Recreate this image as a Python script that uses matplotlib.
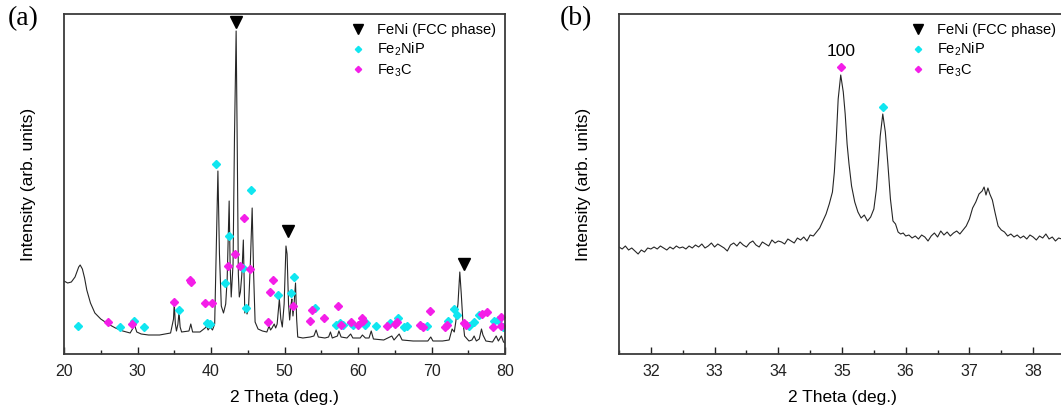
import matplotlib
matplotlib.use("Agg")
import matplotlib.pyplot as plt
from matplotlib.lines import Line2D
from matplotlib.ticker import MultipleLocator

plt.rcParams['font.family'] = ['Liberation Sans', 'DejaVu Sans']
plt.rcParams['mathtext.default'] = 'regular'

# ---- panel (a): wide scan, intensity in arbitrary units (axis spans 0..340)
scan_a_x = [20.0, 20.5, 21.0, 21.5, 22.0, 22.2, 22.5, 22.8, 23.1, 23.6, 24.2, 25.0,
            26.0, 27.0, 28.0, 29.0, 29.4, 29.6, 29.9, 30.5, 31.5, 33.0, 34.5, 34.9,
            35.0, 35.15, 35.3, 35.5, 35.65, 35.8, 36.0, 37.0, 37.25, 37.5, 38.5, 39.2,
            39.4, 39.6, 39.9, 40.2, 40.5, 40.75, 40.94, 41.15, 41.4, 41.7, 42.0, 42.2,
            42.47, 42.6, 42.75, 43.0, 43.2, 43.42, 43.58, 43.72, 43.85, 44.0, 44.2, 44.4,
            44.5, 44.6, 44.75, 44.9, 45.1, 45.35, 45.6, 45.8, 46.0, 46.4, 47.0, 47.6,
            47.9, 48.1, 48.3, 48.6, 48.8, 49.0, 49.3, 49.5, 49.7, 49.95, 50.2, 50.35,
            50.55, 50.7, 50.9, 51.0, 51.15, 51.3, 51.5, 51.65, 51.8, 52.5, 53.5, 54.0,
            54.3, 54.6, 55.5, 56.0, 56.25, 56.5, 57.2, 57.4, 57.7, 58.5, 59.0, 59.3,
            60.3, 60.6, 61.0, 61.5, 61.8, 62.1, 63.5, 64.6, 64.9, 65.6, 66.0, 67.5,
            69.5, 69.9, 70.2, 71.5, 72.4, 72.8, 73.1, 73.3, 73.6, 73.85, 74.05, 74.25,
            74.5, 75.1, 75.5, 75.8, 76.1, 76.5, 76.8, 77.0, 77.4, 78.3, 78.8, 79.1,
            79.5, 79.8, 80.0]
scan_a_y = [73, 71, 72, 77, 87, 89, 85, 76, 64, 51, 41, 35,
            30, 26, 23, 21, 26, 29, 22, 20, 19, 19, 21, 35,
            51, 30, 23, 30, 42, 27, 22, 23, 30, 22, 22, 26,
            28, 24, 27, 24, 30, 120, 183, 100, 48, 41, 50, 75,
            153, 90, 57, 90, 220, 323, 200, 80, 57, 62, 80, 114,
            75, 41, 48, 40, 45, 90, 146, 80, 32, 25, 23, 22,
            28, 24, 26, 30, 26, 30, 55, 35, 27, 50, 108, 100,
            50, 34, 50, 55, 38, 50, 71, 35, 17, 16, 17, 18,
            24, 17, 16, 17, 22, 16, 18, 23, 17, 16, 20, 16,
            16, 19, 16, 16, 23, 15, 14, 18, 14, 20, 14, 13,
            13, 17, 13, 13, 14, 25, 22, 32, 50, 82, 60, 35,
            18, 13, 14, 18, 13, 15, 25, 19, 13, 12, 18, 13,
            18, 12, 11]

feni_a_x = [43.45, 50.5, 74.36]
feni_a_y = [332, 123, 90]

fe2nip_a_x = [21.9, 27.6, 29.5, 30.9, 35.7, 39.4, 39.9, 40.7, 41.84, 42.4, 44.3, 44.75,
              45.5, 49.15, 50.85, 51.3, 54.2, 57.0, 57.5, 58.0, 59.0, 59.35, 60.9, 61.1,
              62.5, 64.4, 65.45, 66.2, 66.6, 69.45, 72.3, 73.0, 73.45, 75.1, 75.8, 76.4,
              78.5, 79.0, 79.7]
fe2nip_a_y = [28, 27, 33, 27, 44, 31, 30, 190, 71, 118, 86, 46,
              164, 59, 61, 77, 46, 29, 31, 29, 31, 29, 29, 31,
              28, 31, 36, 27, 28, 28, 33, 45, 39, 28, 32, 39,
              33, 34, 27]

fe3c_a_x = [26.0, 29.2, 35.0, 37.2, 37.3, 39.2, 40.1, 42.3, 43.2, 44.0, 44.44, 45.3,
            47.75, 48.0, 48.5, 51.2, 53.5, 53.75, 55.35, 57.3, 57.7, 59.0, 60.0, 60.5,
            60.7, 64.0, 65.1, 65.3, 68.5, 68.9, 69.8, 71.8, 72.1, 74.36, 74.7, 76.9,
            77.5, 78.4, 79.4, 79.45]
fe3c_a_y = [32, 30, 52, 74, 72, 51, 51, 88, 100, 88, 136, 85,
            32, 62, 74, 48, 33, 44, 36, 48, 29, 32, 29, 36,
            33, 28, 30, 32, 29, 27, 43, 27, 29, 31, 29, 40,
            42, 27, 28, 37]

# ---- panel (b): narrow scan
scan_b_x = [31.50, 31.55, 31.60, 31.65, 31.70, 31.75, 31.80, 31.85, 31.90, 31.95,
            32.00, 32.05, 32.10, 32.15, 32.20, 32.25, 32.30, 32.35, 32.40, 32.45,
            32.50, 32.55, 32.60, 32.65, 32.70, 32.75, 32.80, 32.85, 32.90, 32.95,
            33.00, 33.05, 33.10, 33.15, 33.20, 33.25, 33.30, 33.35, 33.40, 33.45,
            33.50, 33.55, 33.60, 33.65, 33.70, 33.75, 33.80, 33.85, 33.90, 33.95,
            34.00, 34.05, 34.10, 34.15, 34.20, 34.25, 34.30, 34.35, 34.40, 34.45,
            34.50, 34.55, 34.60, 34.65, 34.70, 34.75, 34.80, 34.85, 34.88, 34.91,
            34.94, 34.98, 35.02, 35.05, 35.08, 35.11, 35.15, 35.20, 35.25, 35.30,
            35.35, 35.40, 35.45, 35.50, 35.54, 35.57, 35.60, 35.64, 35.68, 35.72,
            35.76, 35.80, 35.84, 35.88, 35.92, 35.96, 36.00, 36.05, 36.10, 36.15,
            36.20, 36.25, 36.30, 36.35, 36.40, 36.45, 36.50, 36.55, 36.60, 36.65,
            36.70, 36.75, 36.80, 36.85, 36.90, 36.95, 37.00, 37.05, 37.10, 37.15,
            37.20, 37.23, 37.26, 37.29, 37.32, 37.36, 37.40, 37.45, 37.50, 37.55,
            37.60, 37.65, 37.70, 37.75, 37.80, 37.85, 37.90, 37.95, 38.00, 38.05,
            38.10, 38.15, 38.20, 38.25, 38.30, 38.35, 38.40, 38.45, 38.50]
scan_b_y = [107, 105, 108, 104, 106, 103, 100, 104, 102, 106,
            105, 107, 105, 108, 106, 104, 107, 105, 108, 106,
            107, 105, 108, 106, 109, 107, 110, 106, 108, 111,
            107, 110, 108, 106, 103, 109, 111, 108, 112, 109,
            107, 111, 113, 109, 107, 112, 110, 108, 114, 111,
            113, 112, 110, 115, 113, 111, 116, 114, 117, 113,
            119, 118, 122, 126, 133, 140, 150, 162, 182, 215,
            255, 279, 262, 240, 210, 190, 168, 152, 142, 136,
            139, 133, 137, 145, 165, 190, 218, 240, 222, 190,
            155, 133, 130, 122, 120, 121, 118, 119, 116, 118,
            115, 119, 117, 113, 118, 121, 117, 123, 119, 122,
            118, 121, 123, 120, 124, 128, 135, 146, 152, 160,
            163, 167, 159, 166, 160, 154, 142, 128, 124, 122,
            118, 120, 117, 119, 116, 118, 115, 119, 117, 114,
            118, 116, 120, 115, 117, 113, 116, 115, 114]

fe3c_b_x = [34.98]
fe3c_b_y = [287]
fe2nip_b_x = [35.64]
fe2nip_b_y = [247]
peak_label = "100"

legend_labels = ["FeNi (FCC phase)", "Fe$_2$NiP", "Fe$_3$C"]
line_col = "#262626"
cyan = "#10e6f0"
magenta = "#f41ee8"

fig = plt.figure(figsize=(10.61, 4.05), dpi=100)
ax_a = fig.add_axes([64 / 1061, 1 - 354 / 405, (505 - 64) / 1061, 340 / 405])
ax_b = fig.add_axes([619 / 1061, 1 - 354 / 405, (1065 - 619) / 1061, 340 / 405])


def style_axes(ax, xlim, major, minor):
    ax.set_xlim(*xlim)
    ax.set_ylim(0, 340)
    ax.set_yticks([])
    ax.xaxis.set_major_locator(MultipleLocator(major))
    ax.xaxis.set_minor_locator(MultipleLocator(minor))
    ax.tick_params(axis='x', which='both', direction='in', labelsize=11.5,
                   colors='#222222', pad=7, width=1.0)
    ax.tick_params(axis='x', which='major', length=5)
    ax.tick_params(axis='x', which='minor', length=3)
    for sp in ax.spines.values():
        sp.set_linewidth(1.3)
        sp.set_color('#3a3a3a')
    ax.set_xlabel("2 Theta (deg.)", fontsize=12.5, labelpad=8)
    ax.set_ylabel("Intensity (arb. units)", fontsize=12.5, labelpad=20)
    handles = [
        Line2D([], [], ls='none', marker='v', color='black', ms=7),
        Line2D([], [], ls='none', marker='D', color=cyan, ms=3.2),
        Line2D([], [], ls='none', marker='D', color=magenta, ms=3.2),
    ]
    ax.legend(handles, legend_labels, loc='upper right', frameon=False,
              fontsize=10.5, handlelength=1.2, handletextpad=0.7,
              labelspacing=0.28, borderaxespad=0.3, borderpad=0.3)


ax_a.plot(scan_a_x, scan_a_y, color=line_col, lw=0.8)
ax_a.plot(feni_a_x, feni_a_y, ls='none', marker='v', color='black', ms=8)
ax_a.plot(fe2nip_a_x, fe2nip_a_y, ls='none', marker='D', color=cyan, ms=3.6)
ax_a.plot(fe3c_a_x, fe3c_a_y, ls='none', marker='D', color=magenta, ms=3.6)
style_axes(ax_a, (20, 80), 10, 5)

ax_b.plot(scan_b_x, scan_b_y, color=line_col, lw=0.8)
ax_b.plot(fe2nip_b_x, fe2nip_b_y, ls='none', marker='D', color=cyan, ms=3.6)
ax_b.plot(fe3c_b_x, fe3c_b_y, ls='none', marker='D', color=magenta, ms=3.6)
ax_b.annotate(peak_label, (fe3c_b_x[0], fe3c_b_y[0]), xytext=(0, 6),
              textcoords='offset points', ha='center', va='bottom', fontsize=12.5)
style_axes(ax_b, (31.5, 38.5), 1, 0.5)

fig.text(8 / 1061, 1 - 6 / 405, "(a)", family='Liberation Serif', fontsize=20,
         ha='left', va='top')
fig.text(560 / 1061, 1 - 6 / 405, "(b)", family='Liberation Serif', fontsize=20,
         ha='left', va='top')

fig.savefig("out.png", dpi=100)
